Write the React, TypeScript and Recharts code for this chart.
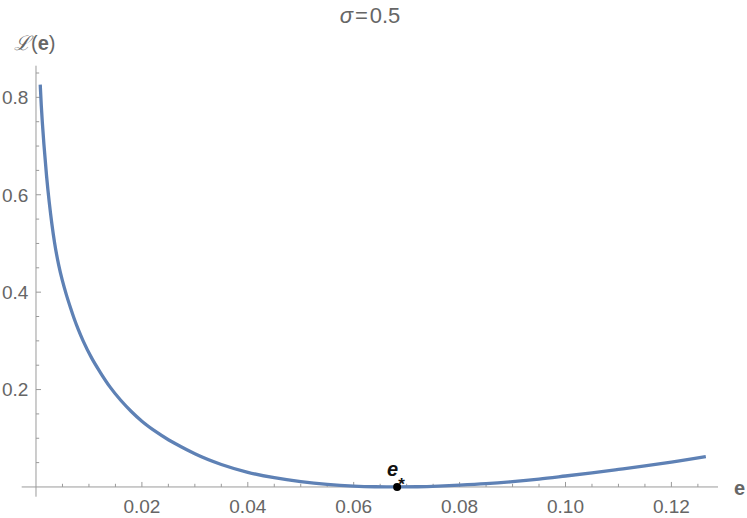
import React from 'react';
import { LineChart, Line, XAxis, YAxis, ReferenceLine, ReferenceDot } from 'recharts';

// values (sigma = 0.5)
const E_VALUES = [
  0.0008, 0.001, 0.0012, 0.0015, 0.002, 0.0025, 0.003, 0.0035, 0.0043, 0.005, 0.0057, 0.0065,
  0.0072, 0.008, 0.0089, 0.0105, 0.0121, 0.014, 0.016, 0.018, 0.02, 0.0225, 0.025, 0.0275,
  0.03, 0.035, 0.04, 0.045, 0.05, 0.055, 0.06, 0.064, 0.068, 0.072, 0.076, 0.08, 0.085, 0.09,
  0.095, 0.1, 0.105, 0.11, 0.115, 0.12, 0.1265,
];
const LOSS_VALUES = [
  0.826, 0.783, 0.748, 0.703, 0.638, 0.585, 0.54, 0.502, 0.455, 0.423, 0.396, 0.3685,
  0.346, 0.323, 0.3, 0.265, 0.236, 0.205, 0.178, 0.155, 0.135, 0.1145, 0.097, 0.082,
  0.068, 0.046, 0.03, 0.019, 0.011, 0.0053, 0.0018, 0.0004, 0, 0.0004, 0.0017, 0.0037, 0.0068, 0.011,
  0.0162, 0.0225, 0.029, 0.036, 0.0432, 0.051, 0.0625,
];
const E_STAR = 0.0682;

const X_TICKS = [0.02, 0.04, 0.06, 0.08, 0.1, 0.12];
const X_MINOR = [0.005, 0.01, 0.015, 0.025, 0.03, 0.035, 0.045, 0.05, 0.055, 0.065, 0.07, 0.075,
  0.085, 0.09, 0.095, 0.105, 0.11, 0.115, 0.125];
const Y_TICKS = [0.2, 0.4, 0.6, 0.8];
const Y_MINOR = [0.05, 0.1, 0.15, 0.25, 0.3, 0.35, 0.45, 0.5, 0.55, 0.65, 0.7, 0.75, 0.85];

const X_DOMAIN: [number, number] = [-0.0027, 0.1288];
const Y_DOMAIN: [number, number] = [-0.02, 0.865];

// tick lengths in data units (~5px / ~3px)
const X_TICK_LEN = 0.0103;
const X_MINOR_LEN = 0.0065;
const Y_TICK_LEN = 0.00095;
const Y_MINOR_LEN = 0.0006;

const FONT = '"Liberation Sans", Arial, sans-serif';
const AXIS_COLOR = '#9a9a9a';
const TEXT_COLOR = '#666666';
const CURVE_COLOR = '#5e81b5';

const data = E_VALUES.map((e, i) => ({ e, loss: LOSS_VALUES[i] }));

const YTick = (props: any) => {
  const { x, y, payload } = props;
  return (
    <text x={x + 6.6} y={y} dy="0.355em" textAnchor="end" fill={TEXT_COLOR} fontSize={19} fontFamily={FONT}>
      {payload.value.toFixed(1)}
    </text>
  );
};

const XTick = (props: any) => {
  const { x, y, payload } = props;
  return (
    <text x={x} y={y} dy={16.6} textAnchor="middle" fill={TEXT_COLOR} fontSize={19} fontFamily={FONT}>
      {payload.value.toFixed(2)}
    </text>
  );
};

const StarDot = (props: any) => {
  const { cx, cy } = props;
  return (
    <g>
      <circle cx={cx} cy={cy} r={4} fill="#000" />
      <text x={cx - 10} y={cy - 10.6} fontSize={20} fontWeight="bold" fontStyle="italic" fill="#111" fontFamily={FONT}>
        e<tspan fontSize={17} fontStyle="normal" dy={14}>*</tspan>
      </text>
    </g>
  );
};

export default function App() {
  return (
    <div style={{ position: 'absolute', left: 0, top: 0, width: 747, height: 518, background: '#fff' }}>
      <LineChart
        width={747}
        height={518}
        data={data}
        margin={{ top: 65.7, right: 29, bottom: 0, left: 0 }}
      >
        <XAxis
          dataKey="e"
          type="number"
          domain={X_DOMAIN}
          ticks={X_TICKS}
          allowDataOverflow
          axisLine={false}
          tickLine={false}
          tickSize={0}
          tickMargin={0}
          height={21.3}
          tick={<XTick />}
        />
        <YAxis
          type="number"
          domain={Y_DOMAIN}
          ticks={Y_TICKS}
          allowDataOverflow
          axisLine={false}
          tickLine={false}
          tickSize={0}
          tickMargin={0}
          width={21.7}
          tick={<YTick />}
        />
        <ReferenceLine y={0} stroke={AXIS_COLOR} strokeWidth={1} />
        <ReferenceLine x={0} stroke={AXIS_COLOR} strokeWidth={1} />
        {X_TICKS.map((t) => (
          <ReferenceLine key={'xt' + t} segment={[{ x: t, y: 0 }, { x: t, y: X_TICK_LEN }]} stroke={AXIS_COLOR} />
        ))}
        {X_MINOR.map((t) => (
          <ReferenceLine key={'xm' + t} segment={[{ x: t, y: 0 }, { x: t, y: X_MINOR_LEN }]} stroke={AXIS_COLOR} />
        ))}
        {Y_TICKS.map((t) => (
          <ReferenceLine key={'yt' + t} segment={[{ x: 0, y: t }, { x: Y_TICK_LEN, y: t }]} stroke={AXIS_COLOR} />
        ))}
        {Y_MINOR.map((t) => (
          <ReferenceLine key={'ym' + t} segment={[{ x: 0, y: t }, { x: Y_MINOR_LEN, y: t }]} stroke={AXIS_COLOR} />
        ))}
        <Line
          type="monotone"
          dataKey="loss"
          stroke={CURVE_COLOR}
          strokeWidth={3.3}
          dot={false}
          isAnimationActive={false}
        />
        <ReferenceDot x={E_STAR} y={0} r={4} shape={<StarDot />} />
      </LineChart>
      <svg width={747} height={518} style={{ position: 'absolute', left: 0, top: 0, pointerEvents: 'none' }}>
        <text x={370} y={22.7} textAnchor="middle" fontSize={22} fill={TEXT_COLOR} fontFamily={FONT}>
          <tspan fontStyle="italic">σ</tspan>
          <tspan dx={2}>=</tspan>
          <tspan dx={2}>0.5</tspan>
        </text>
        <text x={14} y={50} fontSize={20} fill={TEXT_COLOR} fontFamily={FONT}>
          <tspan fontFamily='"DejaVu Serif", serif' fontStyle="italic">ℒ</tspan>(<tspan fontWeight="bold">e</tspan>)
        </text>
        <text x={734} y={494.5} fontSize={20} fontWeight="bold" fill={TEXT_COLOR} fontFamily={FONT}>
          e
        </text>
      </svg>
    </div>
  );
}
